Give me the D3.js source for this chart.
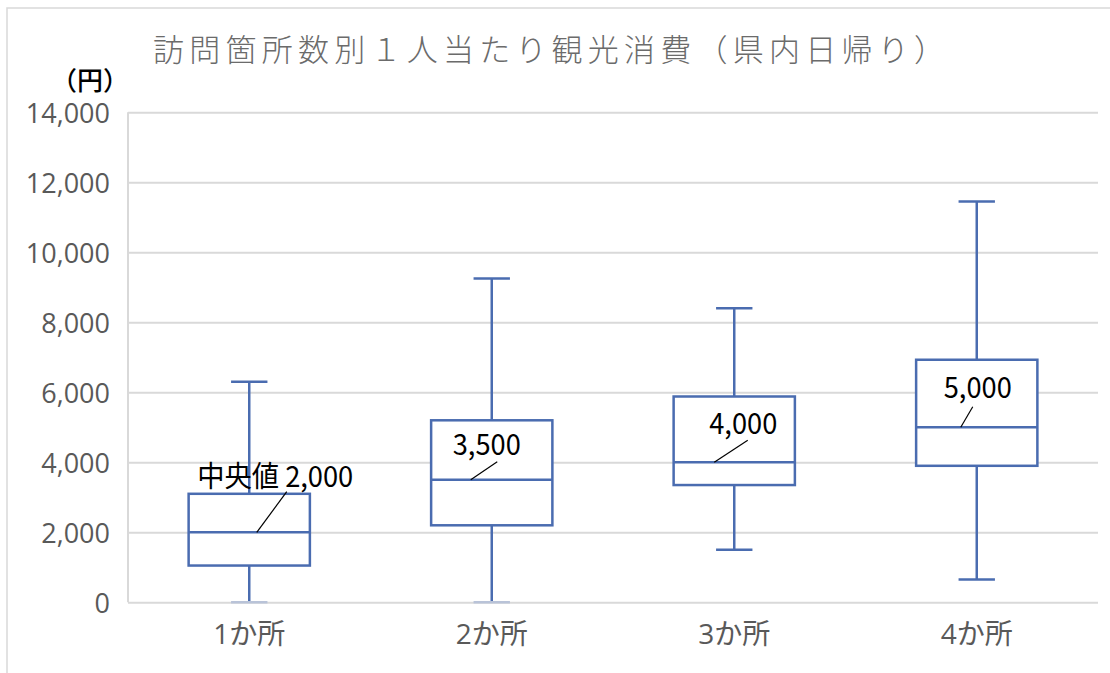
<!DOCTYPE html>
<html>
<meta charset="utf-8">
<script src="https://d3js.org/d3.v7.min.js"></script>

<style>
  body { margin: 0; background: #fff; }
  .grid line { stroke: #d9d9d9; stroke-width: 2px; }
  .grid text { fill: #595959; font-family: "Open Sans", "Noto Sans CJK JP", sans-serif; font-size: 27px; }
  .xaxis text { fill: #595959; font-family: "Open Sans", "Noto Sans CJK JP", sans-serif; font-size: 28px; }
  .box { fill: #fff; stroke: #4a6cb0; stroke-width: 2.5px; }
  .whisker { stroke: #4a6cb0; stroke-width: 2.5px; }
  .label { font-family: "Noto Sans CJK JP", sans-serif; font-size: 29px; fill: #000; }
</style>

<body>
<div id="vis"></div>

<script>
  // data
  const categories = ["1か所", "2か所", "3か所", "4か所"];
  const whiskerLow = [0, 0, 1500, 650];
  const q1 = [1050, 2200, 3350, 3900];
  const median = [2000, 3500, 4000, 5000];
  const q3 = [3100, 5200, 5880, 6930];
  const whiskerHigh = [6300, 9250, 8400, 11450];
  const yTicks = [0, 2000, 4000, 6000, 8000, 10000, 12000, 14000];

  const total_width = 1110, total_height = 673;
  const margin = {top: 112.3, right: 12, bottom: 70.7, left: 128},
      width = total_width - margin.left - margin.right,
      height = total_height - margin.top - margin.bottom;

  const svg = d3.select("#vis")
    .append("svg")
      .attr("width", total_width)
      .attr("height", total_height);

  // outer chart border
  svg.append("rect")
    .attr("x", 7).attr("y", 8)
    .attr("width", 1130).attr("height", 700)
    .attr("fill", "none")
    .attr("stroke", "#d9d9d9")
    .attr("stroke-width", 1.5);

  // title
  svg.append("text")
    .attr("x", 153)
    .attr("y", 47)
    .attr("dominant-baseline", "central")
    .attr("textLength", 792)
    .attr("lengthAdjust", "spacing")
    .style("font-family", "'Noto Sans CJK JP', sans-serif")
    .style("font-weight", 300)
    .style("font-size", "31px")
    .style("fill", "#6b6b6b")
    .text("訪問箇所数別１人当たり観光消費（県内日帰り）");

  // unit
  svg.append("text")
    .attr("x", 90)
    .attr("y", 78)
    .attr("text-anchor", "middle")
    .attr("dominant-baseline", "central")
    .style("font-family", "'Noto Sans CJK JP', sans-serif")
    .style("font-weight", 500)
    .style("font-size", "26px")
    .style("fill", "#000")
    .text("（円）");

  const g = svg.append("g")
    .attr("transform", `translate(${margin.left},${margin.top})`);

  const x_scale = d3.scaleBand()
    .domain(categories)
    .range([0, width]);

  const y_scale = d3.scaleLinear()
    .domain([0, 14000])
    .range([height, 0]);

  // gridlines + y labels
  g.append("g")
    .attr("class", "grid")
    .call(d3.axisLeft(y_scale)
      .tickValues(yTicks)
      .tickSize(-width)
      .tickPadding(18)
      .tickFormat(d3.format(",")))
    .call(a => a.select(".domain").remove())
    .selectAll("text").attr("dy", "0.38em");

  // left axis line
  g.append("line")
    .attr("x1", 0).attr("x2", 0)
    .attr("y1", 0).attr("y2", height)
    .attr("stroke", "#d9d9d9")
    .attr("stroke-width", 2);

  // x labels
  g.append("g")
    .attr("class", "xaxis")
    .attr("transform", `translate(0, ${height})`)
    .call(d3.axisBottom(x_scale).tickSize(0).tickPadding(22))
    .call(a => a.select(".domain").remove())
    .selectAll("text").attr("dy", "0.71em");

  const boxW = x_scale.bandwidth() * 0.5;
  const capW = boxW * 0.3;
  const cx = i => x_scale(categories[i]) + x_scale.bandwidth() / 2;
  const idx = d3.range(categories.length);

  const boxes = g.append("g");

  // whiskers
  boxes.selectAll(".w-low")
    .data(idx)
    .join("line")
      .attr("class", "whisker")
      .attr("x1", cx).attr("x2", cx)
      .attr("y1", i => y_scale(q1[i]))
      .attr("y2", i => y_scale(whiskerLow[i]));

  boxes.selectAll(".w-high")
    .data(idx)
    .join("line")
      .attr("class", "whisker")
      .attr("x1", cx).attr("x2", cx)
      .attr("y1", i => y_scale(q3[i]))
      .attr("y2", i => y_scale(whiskerHigh[i]));

  // caps
  [whiskerLow, whiskerHigh].forEach(arr => {
    boxes.selectAll(null)
      .data(idx)
      .join("line")
        .attr("class", "whisker")
        .attr("x1", i => cx(i) - capW / 2)
        .attr("x2", i => cx(i) + capW / 2)
        .attr("y1", i => y_scale(arr[i]))
        .attr("y2", i => y_scale(arr[i]))
        .style("stroke", i => arr[i] === 0 ? "#b9c3d8" : null);
  });

  // boxes
  boxes.selectAll("rect")
    .data(idx)
    .join("rect")
      .attr("class", "box")
      .attr("x", i => cx(i) - boxW / 2)
      .attr("width", boxW)
      .attr("y", i => y_scale(q3[i]))
      .attr("height", i => y_scale(q1[i]) - y_scale(q3[i]));

  // median lines
  boxes.selectAll(".med")
    .data(idx)
    .join("line")
      .attr("class", "whisker")
      .attr("x1", i => cx(i) - boxW / 2)
      .attr("x2", i => cx(i) + boxW / 2)
      .attr("y1", i => y_scale(median[i]))
      .attr("y2", i => y_scale(median[i]));

  // median labels, offsets in px from (box centre, median)
  const labelPos = [
    {dx: 26, dy: -45, w: 156, lx1: 37.5, ly1: -40.6, lx2: 7.5},
    {dx: -5, dy: -25, w: 68, lx1: 5.5, ly1: -18, lx2: -21},
    {dx: 9, dy: -28, w: 68, lx1: 13.5, ly1: -22, lx2: -20},
    {dx: 1, dy: -29, w: 68, lx1: -4, ly1: -20.6, lx2: -16}
  ];
  const fmt = d3.format(",");

  const labels = g.append("g");
  labels.selectAll("line")
    .data(idx)
    .join("line")
      .attr("x1", i => cx(i) + labelPos[i].lx1)
      .attr("y1", i => y_scale(median[i]) + labelPos[i].ly1)
      .attr("x2", i => cx(i) + labelPos[i].lx2)
      .attr("y2", i => y_scale(median[i]))
      .attr("stroke", "#000")
      .attr("stroke-width", 1.2);

  labels.selectAll("text")
    .data(idx)
    .join("text")
      .attr("class", "label")
      .attr("x", i => cx(i) + labelPos[i].dx - labelPos[i].w / 2)
      .attr("y", i => y_scale(median[i]) + labelPos[i].dy)
      .attr("textLength", i => labelPos[i].w)
      .attr("lengthAdjust", "spacingAndGlyphs")
      .text(i => (i === 0 ? "中央値 " : "") + fmt(median[i]));
</script>
</body>
</html>
